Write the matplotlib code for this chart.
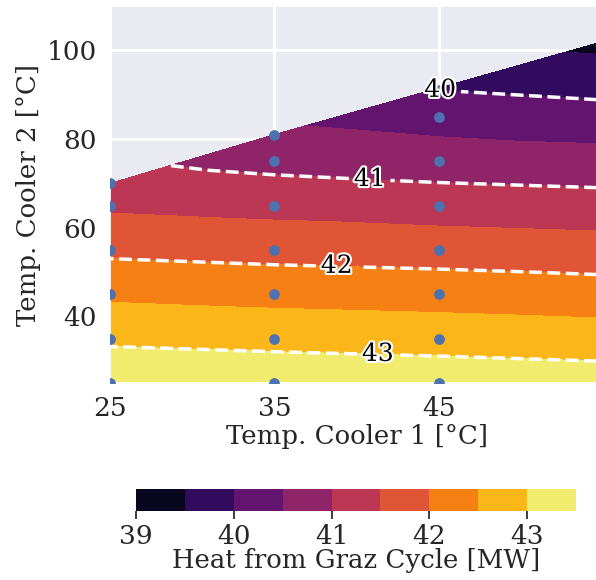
import numpy as np
import matplotlib
import matplotlib.pyplot as plt
import matplotlib.patheffects as pe
import seaborn as sns

matplotlib.use('Agg')

# Sampled operating points (temp cooler 1, temp cooler 2) and heat output
temp_cooler1 = [25, 25, 25, 25, 25, 25,
                35, 35, 35, 35, 35, 35, 35,
                45, 45, 45, 45, 45, 45, 45, 45,
                55, 55, 55, 55, 55, 55, 55, 55, 55]
temp_cooler2 = [25, 35, 45, 55, 65, 70,
                25, 35, 45, 55, 65, 75, 81,
                25, 35, 45, 55, 65, 75, 85, 91,
                25, 35, 45, 55, 65, 75, 85, 95, 102]
heat_mw = [43.42, 42.91, 42.41, 41.90, 41.42, 41.22,
           43.36, 42.85, 42.34, 41.83, 41.34, 40.85, 40.62,
           43.31, 42.80, 42.29, 41.78, 41.26, 40.76, 40.29, 40.00,
           43.25, 42.74, 42.22, 41.72, 41.20, 40.70, 40.19, 39.69, 39.36]

fill_levels = np.arange(39, 43.51, 0.5)
line_levels = [40, 41, 42, 43]
cbar_ticks = [39, 40, 41, 42, 43]

sns.set_theme(style='darkgrid', font_scale=1.5)
plt.rcParams['font.family'] = ['DejaVu Serif']
plt.rcParams['mathtext.fontset'] = 'dejavuserif'
plt.rcParams['xtick.labelsize'] = 19
plt.rcParams['ytick.labelsize'] = 19
plt.rcParams['axes.labelsize'] = 18.7
plt.rcParams['grid.linewidth'] = 2.2
plt.rcParams['xtick.major.pad'] = 3.5

fig = plt.figure(figsize=(5.96, 5.80), dpi=100)
ax = fig.add_axes([110 / 596, 1 - 383 / 580, 493 / 596, 377 / 580])

cf = ax.tricontourf(temp_cooler1, temp_cooler2, heat_mw, levels=fill_levels, cmap='inferno')
cl = ax.tricontour(temp_cooler1, temp_cooler2, heat_mw, levels=line_levels,
                   colors='white', linestyles='dashed', linewidths=2.5)
labels = ax.clabel(cl, fmt='%d', colors='black', inline=True, fontsize=18,
                   manual=[(45.1, 91.5), (40.8, 70.8), (38.8, 51.7), (41.3, 31.9)])
for t in labels:
    t.set_rotation(0)
    t.set_path_effects([pe.withStroke(linewidth=3, foreground='white')])

ax.scatter(temp_cooler1, temp_cooler2, s=45, color='#4C72B0', zorder=3)

ax.set_xlim(25, 55)
ax.set_ylim(25, 110)
ax.set_xticks([25, 35, 45])
ax.set_yticks([40, 60, 80, 100])
ax.set_xlabel('Temp. Cooler 1 [°C]', labelpad=2)
ax.set_ylabel('Temp. Cooler 2 [°C]')

cax = fig.add_axes([136 / 596, 1 - 511 / 580, 440 / 596, 22 / 580])
cbar = fig.colorbar(cf, cax=cax, orientation='horizontal', ticks=cbar_ticks)
cbar.outline.set_visible(False)
cbar.set_label('Heat from Graz Cycle [MW]', labelpad=-1)

fig.savefig('out.png', dpi=100)
